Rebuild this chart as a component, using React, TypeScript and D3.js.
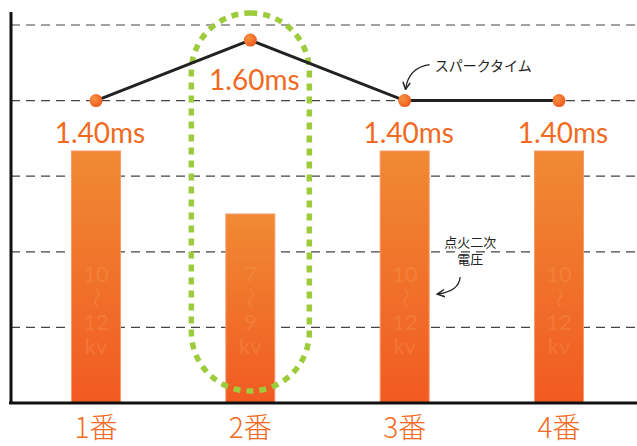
import React from 'react';
import * as d3 from 'd3';

// Cylinder labels
const categories = ['1番', '2番', '3番', '4番'];
// Spark duration per cylinder (ms)
const sparkTimes = [1.4, 1.6, 1.4, 1.4];
// Ignition secondary voltage range per cylinder (kV)
const voltageLow = [10, 7, 10, 10];
const voltageHigh = [12, 9, 12, 12];
// Horizontal guide levels
const gridLevels = [1, 2, 3, 4, 5];
const sparkLabel = 'スパークタイム';
const voltageLabel = ['点火二次', '電圧'];
const highlighted = '2番';

const W = 637;
const H = 446;
const axisX = 11;
const baseline = 403;
const plotTop = 25;
const barWidth = 49;
const orange = '#F26A22';
const jpFont = '"Noto Sans CJK JP", "Noto Sans", sans-serif';
const numFont = 'Lato, "Noto Sans", sans-serif';
const barTextFill = '#F9A262';
const barTextOpacity = 0.3;

export default function App() {
  const x = d3.scalePoint<string>().domain(categories).range([96, 559]);
  const yKv = d3.scaleLinear().domain([0, 18]).range([baseline, plotTop]);
  const yMs = d3.scaleLinear().domain([0.4, 1.65]).range([baseline, plotTop]);
  const yGrid = d3.scaleLinear().domain([0, 5]).range([baseline, plotTop]);

  const pts = categories.map((c, i) => [x(c)!, yMs(sparkTimes[i])] as [number, number]);
  const linePath = d3.line()(pts)!;
  const peak = d3.max(sparkTimes)!;

  const hx = x(highlighted)!;
  const p3 = pts[2];
  const bar3Right = x(categories[2])! + barWidth / 2;

  return (
    <svg width={W} height={H} style={{ position: 'absolute', left: 0, top: 0, background: '#fff' }}>
      <defs>
        <linearGradient id="barGrad" x1="0" y1="0" x2="0" y2="1">
          <stop offset="0" stopColor="#F08A33" />
          <stop offset="1" stopColor="#F15A22" />
        </linearGradient>
        <radialGradient id="dotGrad" cx="0.35" cy="0.35" r="0.7">
          <stop offset="0" stopColor="#F7923F" />
          <stop offset="1" stopColor="#EF5A20" />
        </radialGradient>
        <marker id="arrow" viewBox="0 0 10 10" refX="8" refY="5" markerWidth="7" markerHeight="7" orient="auto-start-reverse">
          <path d="M1,1 L9,5 L1,9" fill="none" stroke="#222" strokeWidth={1.6} />
        </marker>
      </defs>

      {/* guide lines */}
      {gridLevels.map((g) => (
        <line key={g} x1={axisX} x2={W} y1={yGrid(g)} y2={yGrid(g)} stroke="#444" strokeWidth={1.2} strokeDasharray="9 6" />
      ))}

      {/* voltage bars */}
      {categories.map((c, i) => {
        const cx = x(c)!;
        const bx = cx - barWidth / 2;
        const top = yKv(voltageHigh[i]);
        const lines = [String(voltageLow[i]), '〜', String(voltageHigh[i]), 'kv'];
        return (
          <g key={c}>
            <rect x={bx} y={top} width={barWidth} height={baseline - top} fill="url(#barGrad)" stroke="#F79A6C" strokeWidth={1} />
            {lines.map((t, j) => {
              const ty = baseline - 121 + j * 24;
              return t === '〜' ? (
                <g key={j} transform={`translate(${cx},${ty - 8}) rotate(90)`}>
                  <text x={0} y={0} textAnchor="middle" dy="0.35em" fontFamily={jpFont} fontSize={20}
                    fill={barTextFill} fillOpacity={barTextOpacity}>{t}</text>
                </g>
              ) : (
                <text key={j} x={cx} y={ty} textAnchor="middle" fontFamily={numFont} fontSize={22}
                  fill={barTextFill} fillOpacity={barTextOpacity}>{t}</text>
              );
            })}
          </g>
        );
      })}

      {/* highlight around cylinder 2 */}
      <rect x={hx - 59} y={13} width={118} height={378} rx={59} ry={59} fill="none" stroke="#9CCB3B" strokeWidth={5.5} strokeDasharray="7 6" />

      {/* axes */}
      <line x1={axisX} x2={axisX} y1={12} y2={baseline} stroke="#111" strokeWidth={3} />
      <line x1={9} x2={W} y1={baseline} y2={baseline} stroke="#111" strokeWidth={3} />

      {/* spark time line */}
      <path d={linePath} fill="none" stroke="#222" strokeWidth={3} />
      {pts.map(([px, py], i) => (
        <circle key={i} cx={px} cy={py} r={6.5} fill="url(#dotGrad)" />
      ))}
      {pts.map(([px, py], i) => (
        <text key={i} x={px + 4} y={py + 42 + (sparkTimes[i] === peak ? 8 : 0)} textAnchor="middle" fontFamily={numFont} fontSize={28} fill={orange}>
          {sparkTimes[i].toFixed(2)}ms
        </text>
      ))}

      {/* category labels */}
      {categories.map((c) => (
        <text key={c} x={x(c)!} y={438} textAnchor="middle" fontFamily={jpFont} fontWeight={300} fontSize={28} fill={orange}>{c}</text>
      ))}

      {/* annotations */}
      <text x={p3[0] + 30} y={p3[1] - 30} fontFamily={jpFont} fontSize={14} fill="#222">{sparkLabel}</text>
      <path d={`M${p3[0] + 25},${p3[1] - 36} Q${p3[0] + 4},${p3[1] - 33} ${p3[0] + 1},${p3[1] - 12}`} fill="none" stroke="#222" strokeWidth={1.3} markerEnd="url(#arrow)" />

      {voltageLabel.map((t, i) => (
        <text key={i} x={bar3Right + 41} y={247 + i * 17} textAnchor="middle" fontFamily={jpFont} fontSize={13} fill="#222">{t}</text>
      ))}
      <path d={`M${bar3Right + 31},${277} Q${bar3Right + 30},${291} ${bar3Right + 9},${294}`} fill="none" stroke="#222" strokeWidth={1.3} markerEnd="url(#arrow)" />
    </svg>
  );
}
